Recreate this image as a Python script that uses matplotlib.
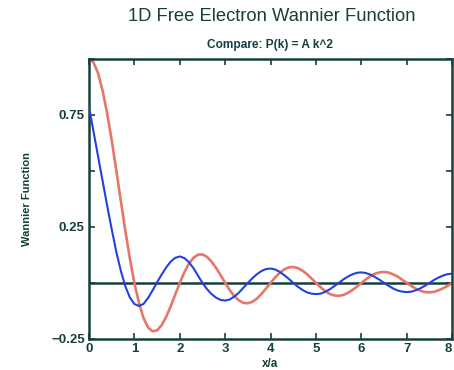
import matplotlib
matplotlib.use("Agg")
import matplotlib.pyplot as plt

plt.rcParams['font.family'] = ['Liberation Sans', 'DejaVu Sans']

x_vals = [round(i * 0.1, 1) for i in range(81)]

# Red curve: P(k) = const
red_vals = [1.000, 0.984, 0.936, 0.858, 0.757, 0.637, 0.505, 0.368, 0.234, 0.109,
            0.000, -0.089, -0.156, -0.198, -0.216, -0.212, -0.189, -0.152, -0.104, -0.052,
            0.000, 0.047, 0.085, 0.112, 0.126, 0.127, 0.116, 0.095, 0.067, 0.034,
            0.000, -0.032, -0.059, -0.078, -0.089, -0.091, -0.084, -0.070, -0.049, -0.025,
            0.000, 0.024, 0.045, 0.060, 0.069, 0.071, 0.066, 0.055, 0.039, 0.020,
            0.000, -0.019, -0.036, -0.049, -0.056, -0.058, -0.054, -0.045, -0.032, -0.017,
            0.000, 0.016, 0.030, 0.041, 0.047, 0.049, 0.046, 0.038, 0.028, 0.014,
            0.000, -0.014, -0.026, -0.035, -0.041, -0.042, -0.040, -0.033, -0.024, -0.013,
            0.000]

# Blue curve: P(k) = A k^2
blue_vals = [0.785, 0.675, 0.565, 0.455, 0.345, 0.240, 0.140, 0.055, -0.015, -0.065,
             -0.094, -0.103, -0.094, -0.068, -0.034, 0.003, 0.037, 0.069, 0.095, 0.112,
             0.118, 0.111, 0.093, 0.066, 0.033, 0.000, -0.028, -0.050, -0.066, -0.076,
             -0.079, -0.074, -0.061, -0.044, -0.022, 0.000, 0.021, 0.039, 0.053, 0.062,
             0.064, 0.060, 0.049, 0.035, 0.018, 0.000, -0.017, -0.031, -0.042, -0.048,
             -0.050, -0.048, -0.040, -0.029, -0.015, 0.000, 0.015, 0.028, 0.038, 0.045,
             0.047, 0.044, 0.037, 0.026, 0.014, 0.000, -0.013, -0.025, -0.034, -0.039,
             -0.041, -0.039, -0.033, -0.024, -0.013, 0.000, 0.013, 0.024, 0.033, 0.039,
             0.041]

x_ticks = [0, 1, 2, 3, 4, 5, 6, 7, 8]
x_tick_labels = ['0', '1', '2', '3', '4', '5', '6', '7', '8']
y_ticks = [-0.25, 0.0, 0.25, 0.5, 0.75, 1.0]
y_tick_labels = ['\u22120.25', '', '0.25', '', '0.75', '']

title = '1D Free Electron Wannier Function'
subtitle = 'Compare: P(k) = A k^2'
xlabel = 'x/a'
ylabel = 'Wannier Function'

teal = '#163f3c'
red = '#e6766a'
blue = '#2440e0'

fig = plt.figure(figsize=(4.54, 3.70), dpi=100)
ax = fig.add_axes([0.196, 0.084, 0.800, 0.757])

ax.axhline(0, color=teal, lw=1.8, zorder=1)
ax.plot(x_vals, red_vals, color=red, lw=1.9, zorder=2)
ax.plot(x_vals, blue_vals, color=blue, lw=1.5, zorder=3)

ax.set_xlim(0, 8)
ax.set_ylim(-0.25, 1.0)
ax.set_xticks(x_ticks)
ax.set_xticklabels(x_tick_labels)
ax.set_yticks(y_ticks)
ax.set_yticklabels(y_tick_labels)

ax.tick_params(direction='in', length=4, width=1.2, color=teal, labelcolor=teal,
               top=True, right=True, labelsize=9.5, pad=3)
for lab in ax.get_xticklabels() + ax.get_yticklabels():
    lab.set_fontweight('bold')
ax.get_xticklabels()[-1].set_horizontalalignment('right')
for sp in ax.spines.values():
    sp.set_color(teal)
    sp.set_linewidth(1.8)

ax.set_xlabel(xlabel, fontsize=8.5, fontweight='bold', color=teal, labelpad=2)
ax.set_ylabel(ylabel, fontsize=8, fontweight='bold', color=teal, labelpad=14)

fig.text(0.598, 0.955, title, ha='center', va='center', fontsize=13.2, color=teal)
fig.text(0.595, 0.878, subtitle, ha='center', va='center', fontsize=8.6, fontweight='bold', color=teal)

fig.savefig('out.png', dpi=100)
